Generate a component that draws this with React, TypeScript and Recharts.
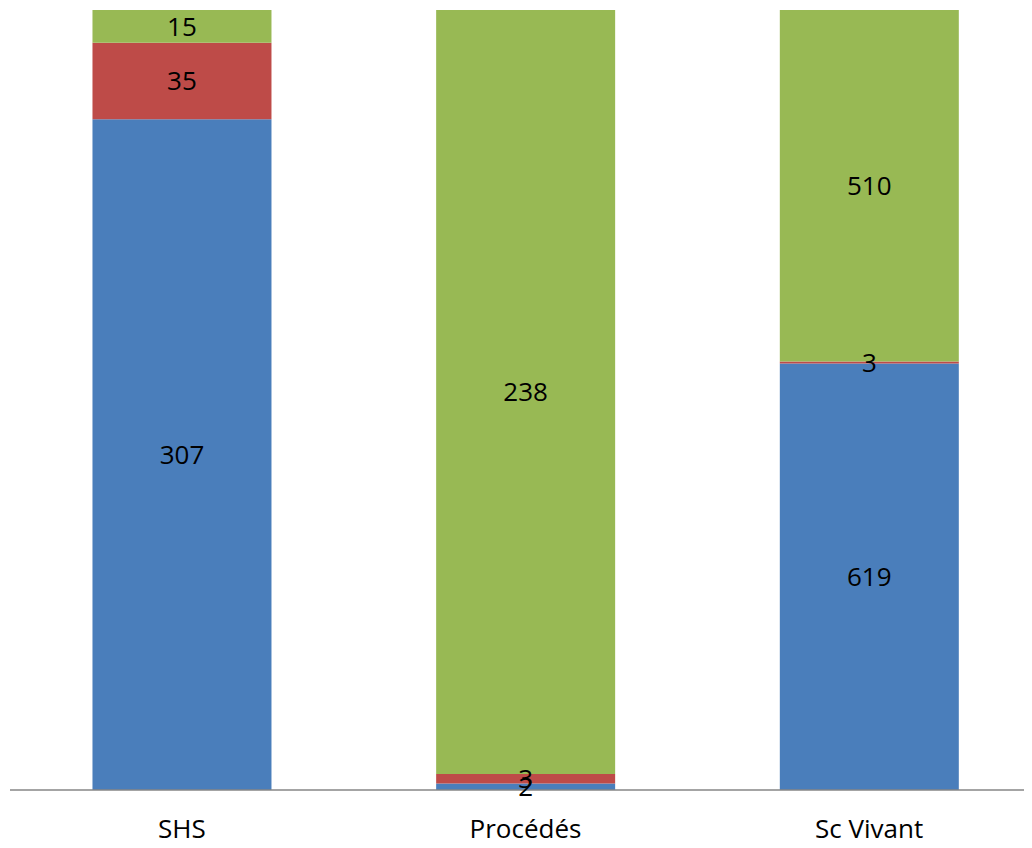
import React from 'react'
import { BarChart, Bar, XAxis, YAxis, LabelList } from 'recharts'

const categories = ['SHS', 'Procédés', 'Sc Vivant']
const blueValues = [307, 2, 619]
const redValues = [35, 3, 3]
const greenValues = [15, 238, 510]

const data = categories.map((name, i) => ({
  name,
  blue: blueValues[i],
  red: redValues[i],
  green: greenValues[i],
}))

const font = '"Open Sans", sans-serif'
const labelStyle = { fontSize: 26, fill: '#000', fontFamily: font }

export default function App() {
  return (
    <div style={{ margin: -8, width: 1032, height: 848, overflow: 'hidden', background: '#fff' }}>
      <BarChart
        width={1045}
        height={848}
        data={data}
        stackOffset="expand"
        barCategoryGap="24%"
        margin={{ top: 10, right: 4, left: 10, bottom: 0 }}
      >
        <XAxis
          dataKey="name"
          height={58}
          tickLine={false}
          tickSize={0}
          tickMargin={30}
          axisLine={{ stroke: '#868686', strokeWidth: 1.5 }}
          tick={{ fontSize: 26, fill: '#000', fontFamily: font }}
        />
        <YAxis hide domain={[0, 1]} />
        <Bar dataKey="blue" stackId="a" fill="#4A7EBB" isAnimationActive={false}>
          <LabelList dataKey="blue" position="center" style={labelStyle} />
        </Bar>
        <Bar dataKey="red" stackId="a" fill="#BE4B48" isAnimationActive={false}>
          <LabelList dataKey="red" position="center" style={labelStyle} />
        </Bar>
        <Bar dataKey="green" stackId="a" fill="#98B954" isAnimationActive={false}>
          <LabelList dataKey="green" position="center" style={labelStyle} />
        </Bar>
      </BarChart>
    </div>
  )
}
